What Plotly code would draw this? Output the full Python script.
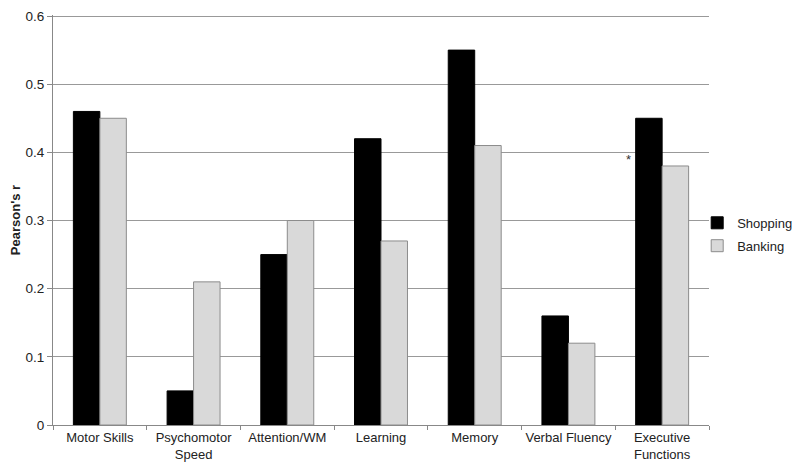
import plotly.graph_objects as go

categories = ["Motor Skills", "Psychomotor<br>Speed", "Attention/WM", "Learning",
              "Memory", "Verbal Fluency", "Executive<br>Functions"]
shopping = [0.46, 0.05, 0.25, 0.42, 0.55, 0.16, 0.45]
banking = [0.45, 0.21, 0.30, 0.27, 0.41, 0.12, 0.38]
y_ticks = [0, 0.1, 0.2, 0.3, 0.4, 0.5, 0.6]
y_tick_labels = ["0", "0.1", "0.2", "0.3", "0.4", "0.5", "0.6"]

font = "Liberation Sans, Arial, sans-serif"

fig = go.Figure()
fig.add_trace(go.Bar(name="Shopping", x=categories, y=shopping, legendgroup="s",
                     marker=dict(color="#000000", line=dict(color="#000000", width=1))))
fig.add_trace(go.Bar(name="Banking", x=categories, y=banking, legendgroup="b",
                     marker=dict(color="#d9d9d9", line=dict(color="#8c8c8c", width=1))))

fig.add_annotation(x=categories[6], y=0.39, text="*", showarrow=False,
                   xshift=-34, font=dict(size=13, color="#333", family=font))

fig.update_layout(
    width=800, height=470,
    margin=dict(l=45, r=99, t=7, b=53, autoexpand=False),
    paper_bgcolor="white", plot_bgcolor="white",
    barmode="group", bargap=0.435, bargroupgap=0,
    font=dict(family=font, size=13, color="#222"),
    showlegend=True,
    legend=dict(x=0.982, y=0.465, xanchor="left", yanchor="middle",
                font=dict(size=13, color="#222"), tracegroupgap=3,
                itemwidth=30, bgcolor="rgba(0,0,0,0)"),
    xaxis=dict(showline=True, linecolor="#888", linewidth=1, tickangle=0,
               ticks="outside", tickson="boundaries", ticklen=4, tickcolor="#888",
               tickfont=dict(size=13, color="#222"), showgrid=False, automargin=False),
    yaxis=dict(range=[0, 0.6015], tickvals=y_ticks, ticktext=y_tick_labels,
               showline=True, linecolor="#888", linewidth=1,
               ticks="outside", ticklen=5, tickcolor="#888",
               showgrid=True, gridcolor="#999", gridwidth=1, automargin=False,
               ticklabeloverflow="allow",
               tickfont=dict(size=13.5, color="#222"), zeroline=False,
               title=dict(text="<b>Pearson's r</b>", font=dict(size=13, color="#222"), standoff=17)),
)

fig.write_html("out.html")
